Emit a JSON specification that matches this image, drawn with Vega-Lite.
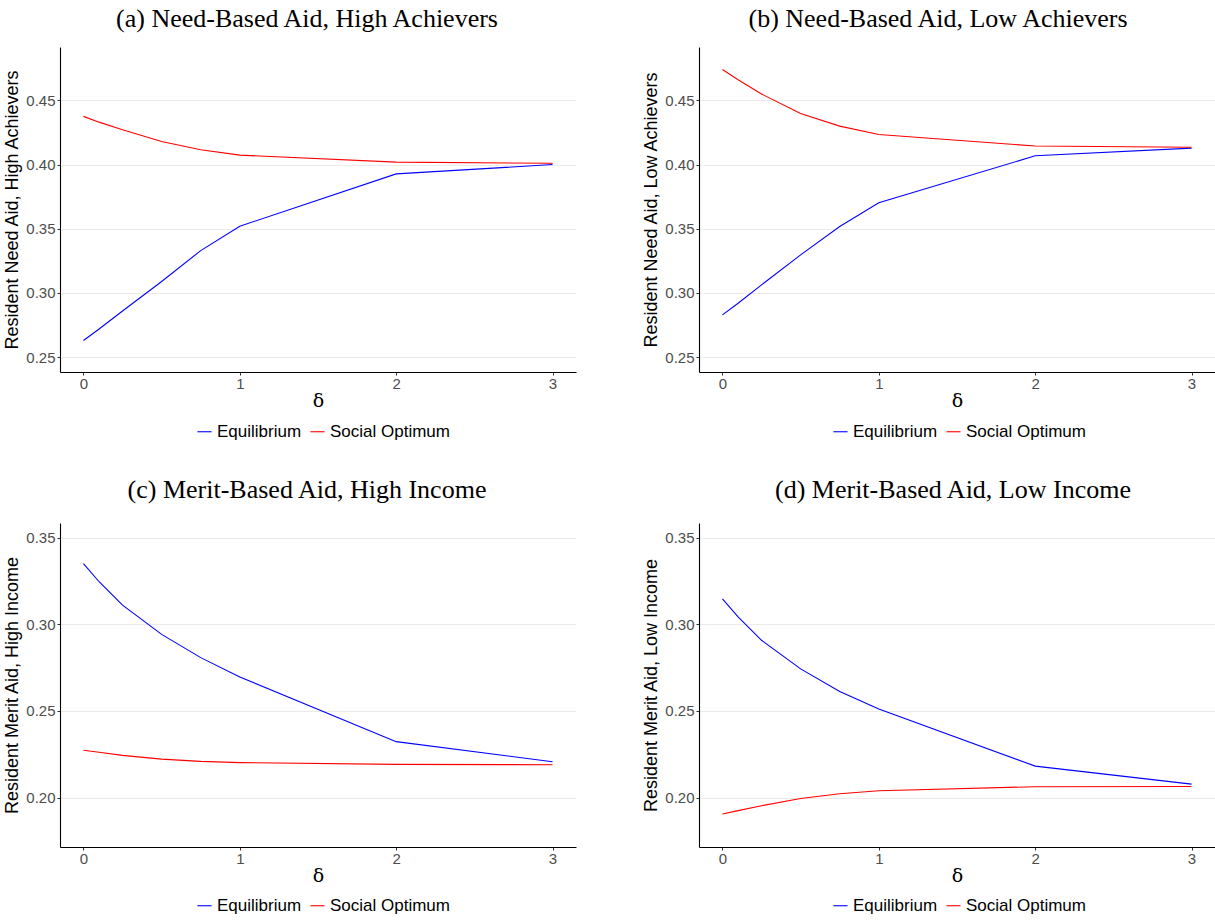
{
  "$schema": "https://vega.github.io/schema/vega-lite/v6.json",
  "background": "white",
  "padding": {"left": 3, "top": 6, "right": 0, "bottom": 0},
  "data": {"values": [
    {"panel":"a","series":"Equilibrium","delta":0,"value":0.263},
    {"panel":"a","series":"Equilibrium","delta":0.1,"value":0.272},
    {"panel":"a","series":"Equilibrium","delta":0.25,"value":0.286},
    {"panel":"a","series":"Equilibrium","delta":0.5,"value":0.309},
    {"panel":"a","series":"Equilibrium","delta":0.75,"value":0.333},
    {"panel":"a","series":"Equilibrium","delta":1,"value":0.352},
    {"panel":"a","series":"Equilibrium","delta":2,"value":0.3927},
    {"panel":"a","series":"Equilibrium","delta":3,"value":0.4},
    {"panel":"a","series":"Social Optimum","delta":0,"value":0.4375},
    {"panel":"a","series":"Social Optimum","delta":0.1,"value":0.433},
    {"panel":"a","series":"Social Optimum","delta":0.25,"value":0.4271},
    {"panel":"a","series":"Social Optimum","delta":0.5,"value":0.418},
    {"panel":"a","series":"Social Optimum","delta":0.75,"value":0.4115},
    {"panel":"a","series":"Social Optimum","delta":1,"value":0.4073},
    {"panel":"a","series":"Social Optimum","delta":2,"value":0.4019},
    {"panel":"a","series":"Social Optimum","delta":3,"value":0.401},
    {"panel":"b","series":"Equilibrium","delta":0,"value":0.283},
    {"panel":"b","series":"Equilibrium","delta":0.1,"value":0.292},
    {"panel":"b","series":"Equilibrium","delta":0.25,"value":0.3063},
    {"panel":"b","series":"Equilibrium","delta":0.5,"value":0.3297},
    {"panel":"b","series":"Equilibrium","delta":0.75,"value":0.3518},
    {"panel":"b","series":"Equilibrium","delta":1,"value":0.3703},
    {"panel":"b","series":"Equilibrium","delta":2,"value":0.4068},
    {"panel":"b","series":"Equilibrium","delta":3,"value":0.4128},
    {"panel":"b","series":"Social Optimum","delta":0,"value":0.474},
    {"panel":"b","series":"Social Optimum","delta":0.1,"value":0.466},
    {"panel":"b","series":"Social Optimum","delta":0.25,"value":0.4549},
    {"panel":"b","series":"Social Optimum","delta":0.5,"value":0.4398},
    {"panel":"b","series":"Social Optimum","delta":0.75,"value":0.4299},
    {"panel":"b","series":"Social Optimum","delta":1,"value":0.4234},
    {"panel":"b","series":"Social Optimum","delta":2,"value":0.4144},
    {"panel":"b","series":"Social Optimum","delta":3,"value":0.4135},
    {"panel":"c","series":"Equilibrium","delta":0,"value":0.335},
    {"panel":"c","series":"Equilibrium","delta":0.1,"value":0.3246},
    {"panel":"c","series":"Equilibrium","delta":0.25,"value":0.3111},
    {"panel":"c","series":"Equilibrium","delta":0.5,"value":0.2942},
    {"panel":"c","series":"Equilibrium","delta":0.75,"value":0.2808},
    {"panel":"c","series":"Equilibrium","delta":1,"value":0.2696},
    {"panel":"c","series":"Equilibrium","delta":2,"value":0.2323},
    {"panel":"c","series":"Equilibrium","delta":3,"value":0.2207},
    {"panel":"c","series":"Social Optimum","delta":0,"value":0.2273},
    {"panel":"c","series":"Social Optimum","delta":0.1,"value":0.2262},
    {"panel":"c","series":"Social Optimum","delta":0.25,"value":0.2244},
    {"panel":"c","series":"Social Optimum","delta":0.5,"value":0.2222},
    {"panel":"c","series":"Social Optimum","delta":0.75,"value":0.2209},
    {"panel":"c","series":"Social Optimum","delta":1,"value":0.2202},
    {"panel":"c","series":"Social Optimum","delta":2,"value":0.2192},
    {"panel":"c","series":"Social Optimum","delta":3,"value":0.219},
    {"panel":"d","series":"Equilibrium","delta":0,"value":0.3147},
    {"panel":"d","series":"Equilibrium","delta":0.1,"value":0.3043},
    {"panel":"d","series":"Equilibrium","delta":0.25,"value":0.2908},
    {"panel":"d","series":"Equilibrium","delta":0.5,"value":0.2743},
    {"panel":"d","series":"Equilibrium","delta":0.75,"value":0.2613},
    {"panel":"d","series":"Equilibrium","delta":1,"value":0.2512},
    {"panel":"d","series":"Equilibrium","delta":2,"value":0.2182},
    {"panel":"d","series":"Equilibrium","delta":3,"value":0.2078},
    {"panel":"d","series":"Social Optimum","delta":0,"value":0.1905},
    {"panel":"d","series":"Social Optimum","delta":0.1,"value":0.1925},
    {"panel":"d","series":"Social Optimum","delta":0.25,"value":0.1953},
    {"panel":"d","series":"Social Optimum","delta":0.5,"value":0.1995},
    {"panel":"d","series":"Social Optimum","delta":0.75,"value":0.2022},
    {"panel":"d","series":"Social Optimum","delta":1,"value":0.204},
    {"panel":"d","series":"Social Optimum","delta":2,"value":0.2063},
    {"panel":"d","series":"Social Optimum","delta":3,"value":0.2064}
  ]},
  "columns": 2,
  "spacing": {"row": 37, "column": 66},
  "resolve": {"scale": {"x": "independent", "y": "independent", "color": "independent"}, "legend": {"color": "independent"}, "axis": {"x": "independent", "y": "independent"}},
  "concat": [
    {
      "width": 516, "height": 325,
      "title": {"text": "(a) Need-Based Aid, High Achievers", "dx": -11},
      "transform": [{"filter": "datum.panel === 'a'"}],
      "mark": {"type": "line", "strokeWidth": 1.1},
      "encoding": {
        "x": {"field": "delta", "type": "quantitative", "scale": {"domain": [-0.15, 3.15], "nice": false, "zero": false}, "axis": {"title": "δ", "values": [0, 1, 2, 3], "format": "d"}},
        "y": {"field": "value", "type": "quantitative", "scale": {"domain": [0.2385, 0.4915], "nice": false, "zero": false}, "axis": {"title": "Resident Need Aid, High Achievers", "values": [0.25, 0.3, 0.35, 0.4, 0.45], "format": ".2f"}},
        "color": {"field": "series", "type": "nominal", "scale": {"domain": ["Equilibrium", "Social Optimum"], "range": ["#0000ff", "#ff0000"]}, "legend": {"legendX": 136, "legendY": 376}}
      }
    },
    {
      "width": 516, "height": 325,
      "title": {"text": "(b) Need-Based Aid, Low Achievers", "dx": -19},
      "transform": [{"filter": "datum.panel === 'b'"}],
      "mark": {"type": "line", "strokeWidth": 1.1},
      "encoding": {
        "x": {"field": "delta", "type": "quantitative", "scale": {"domain": [-0.15, 3.15], "nice": false, "zero": false}, "axis": {"title": "δ", "values": [0, 1, 2, 3], "format": "d"}},
        "y": {"field": "value", "type": "quantitative", "scale": {"domain": [0.2385, 0.4915], "nice": false, "zero": false}, "axis": {"title": "Resident Need Aid, Low Achievers", "values": [0.25, 0.3, 0.35, 0.4, 0.45], "format": ".2f"}},
        "color": {"field": "series", "type": "nominal", "scale": {"domain": ["Equilibrium", "Social Optimum"], "range": ["#0000ff", "#ff0000"]}, "legend": {"legendX": 133, "legendY": 376}}
      }
    },
    {
      "width": 516, "height": 324,
      "title": {"text": "(c) Merit-Based Aid, High Income", "dx": -11, "offset": 20},
      "transform": [{"filter": "datum.panel === 'c'"}],
      "mark": {"type": "line", "strokeWidth": 1.1},
      "encoding": {
        "x": {"field": "delta", "type": "quantitative", "scale": {"domain": [-0.15, 3.15], "nice": false, "zero": false}, "axis": {"title": "δ", "values": [0, 1, 2, 3], "format": "d"}},
        "y": {"field": "value", "type": "quantitative", "scale": {"domain": [0.1715, 0.3585], "nice": false, "zero": false}, "axis": {"title": "Resident Merit Aid, High Income", "values": [0.2, 0.25, 0.3, 0.35], "format": ".2f"}},
        "color": {"field": "series", "type": "nominal", "scale": {"domain": ["Equilibrium", "Social Optimum"], "range": ["#0000ff", "#ff0000"]}, "legend": {"legendX": 136, "legendY": 374}}
      }
    },
    {
      "width": 516, "height": 324,
      "title": {"text": "(d) Merit-Based Aid, Low Income", "dx": -4, "offset": 20},
      "transform": [{"filter": "datum.panel === 'd'"}],
      "mark": {"type": "line", "strokeWidth": 1.1},
      "encoding": {
        "x": {"field": "delta", "type": "quantitative", "scale": {"domain": [-0.15, 3.15], "nice": false, "zero": false}, "axis": {"title": "δ", "values": [0, 1, 2, 3], "format": "d"}},
        "y": {"field": "value", "type": "quantitative", "scale": {"domain": [0.1715, 0.3585], "nice": false, "zero": false}, "axis": {"title": "Resident Merit Aid, Low Income", "values": [0.2, 0.25, 0.3, 0.35], "format": ".2f"}},
        "color": {"field": "series", "type": "nominal", "scale": {"domain": ["Equilibrium", "Social Optimum"], "range": ["#0000ff", "#ff0000"]}, "legend": {"legendX": 133, "legendY": 374}}
      }
    }
  ],
  "config": {
    "view": {"stroke": null},
    "title": {"font": "Liberation Serif", "fontSize": 26, "fontWeight": "normal", "color": "black", "anchor": "middle", "frame": "group", "offset": 15},
    "axis": {"domainColor": "black", "domainWidth": 1.1, "tickColor": "#333333", "tickSize": 3, "labelColor": "#4d4d4d", "labelFont": "Liberation Sans", "labelFontSize": 15, "labelPadding": 2, "titleFont": "Liberation Sans", "titleFontWeight": "normal", "titleColor": "black", "titleFontSize": 18, "gridColor": "#ebebeb", "gridWidth": 1},
    "axisX": {"grid": false, "titleFontSize": 19, "titlePadding": 0, "labelPadding": 1, "titleFont": "DejaVu Serif"},
    "axisY": {"grid": true, "titlePadding": 4},
    "legend": {"orient": "none", "direction": "horizontal", "title": null, "symbolType": "stroke", "symbolSize": 200, "symbolStrokeWidth": 1.1, "labelFont": "Liberation Sans", "labelFontSize": 17, "labelColor": "black", "labelOffset": 4, "columnPadding": 6}
  }
}
